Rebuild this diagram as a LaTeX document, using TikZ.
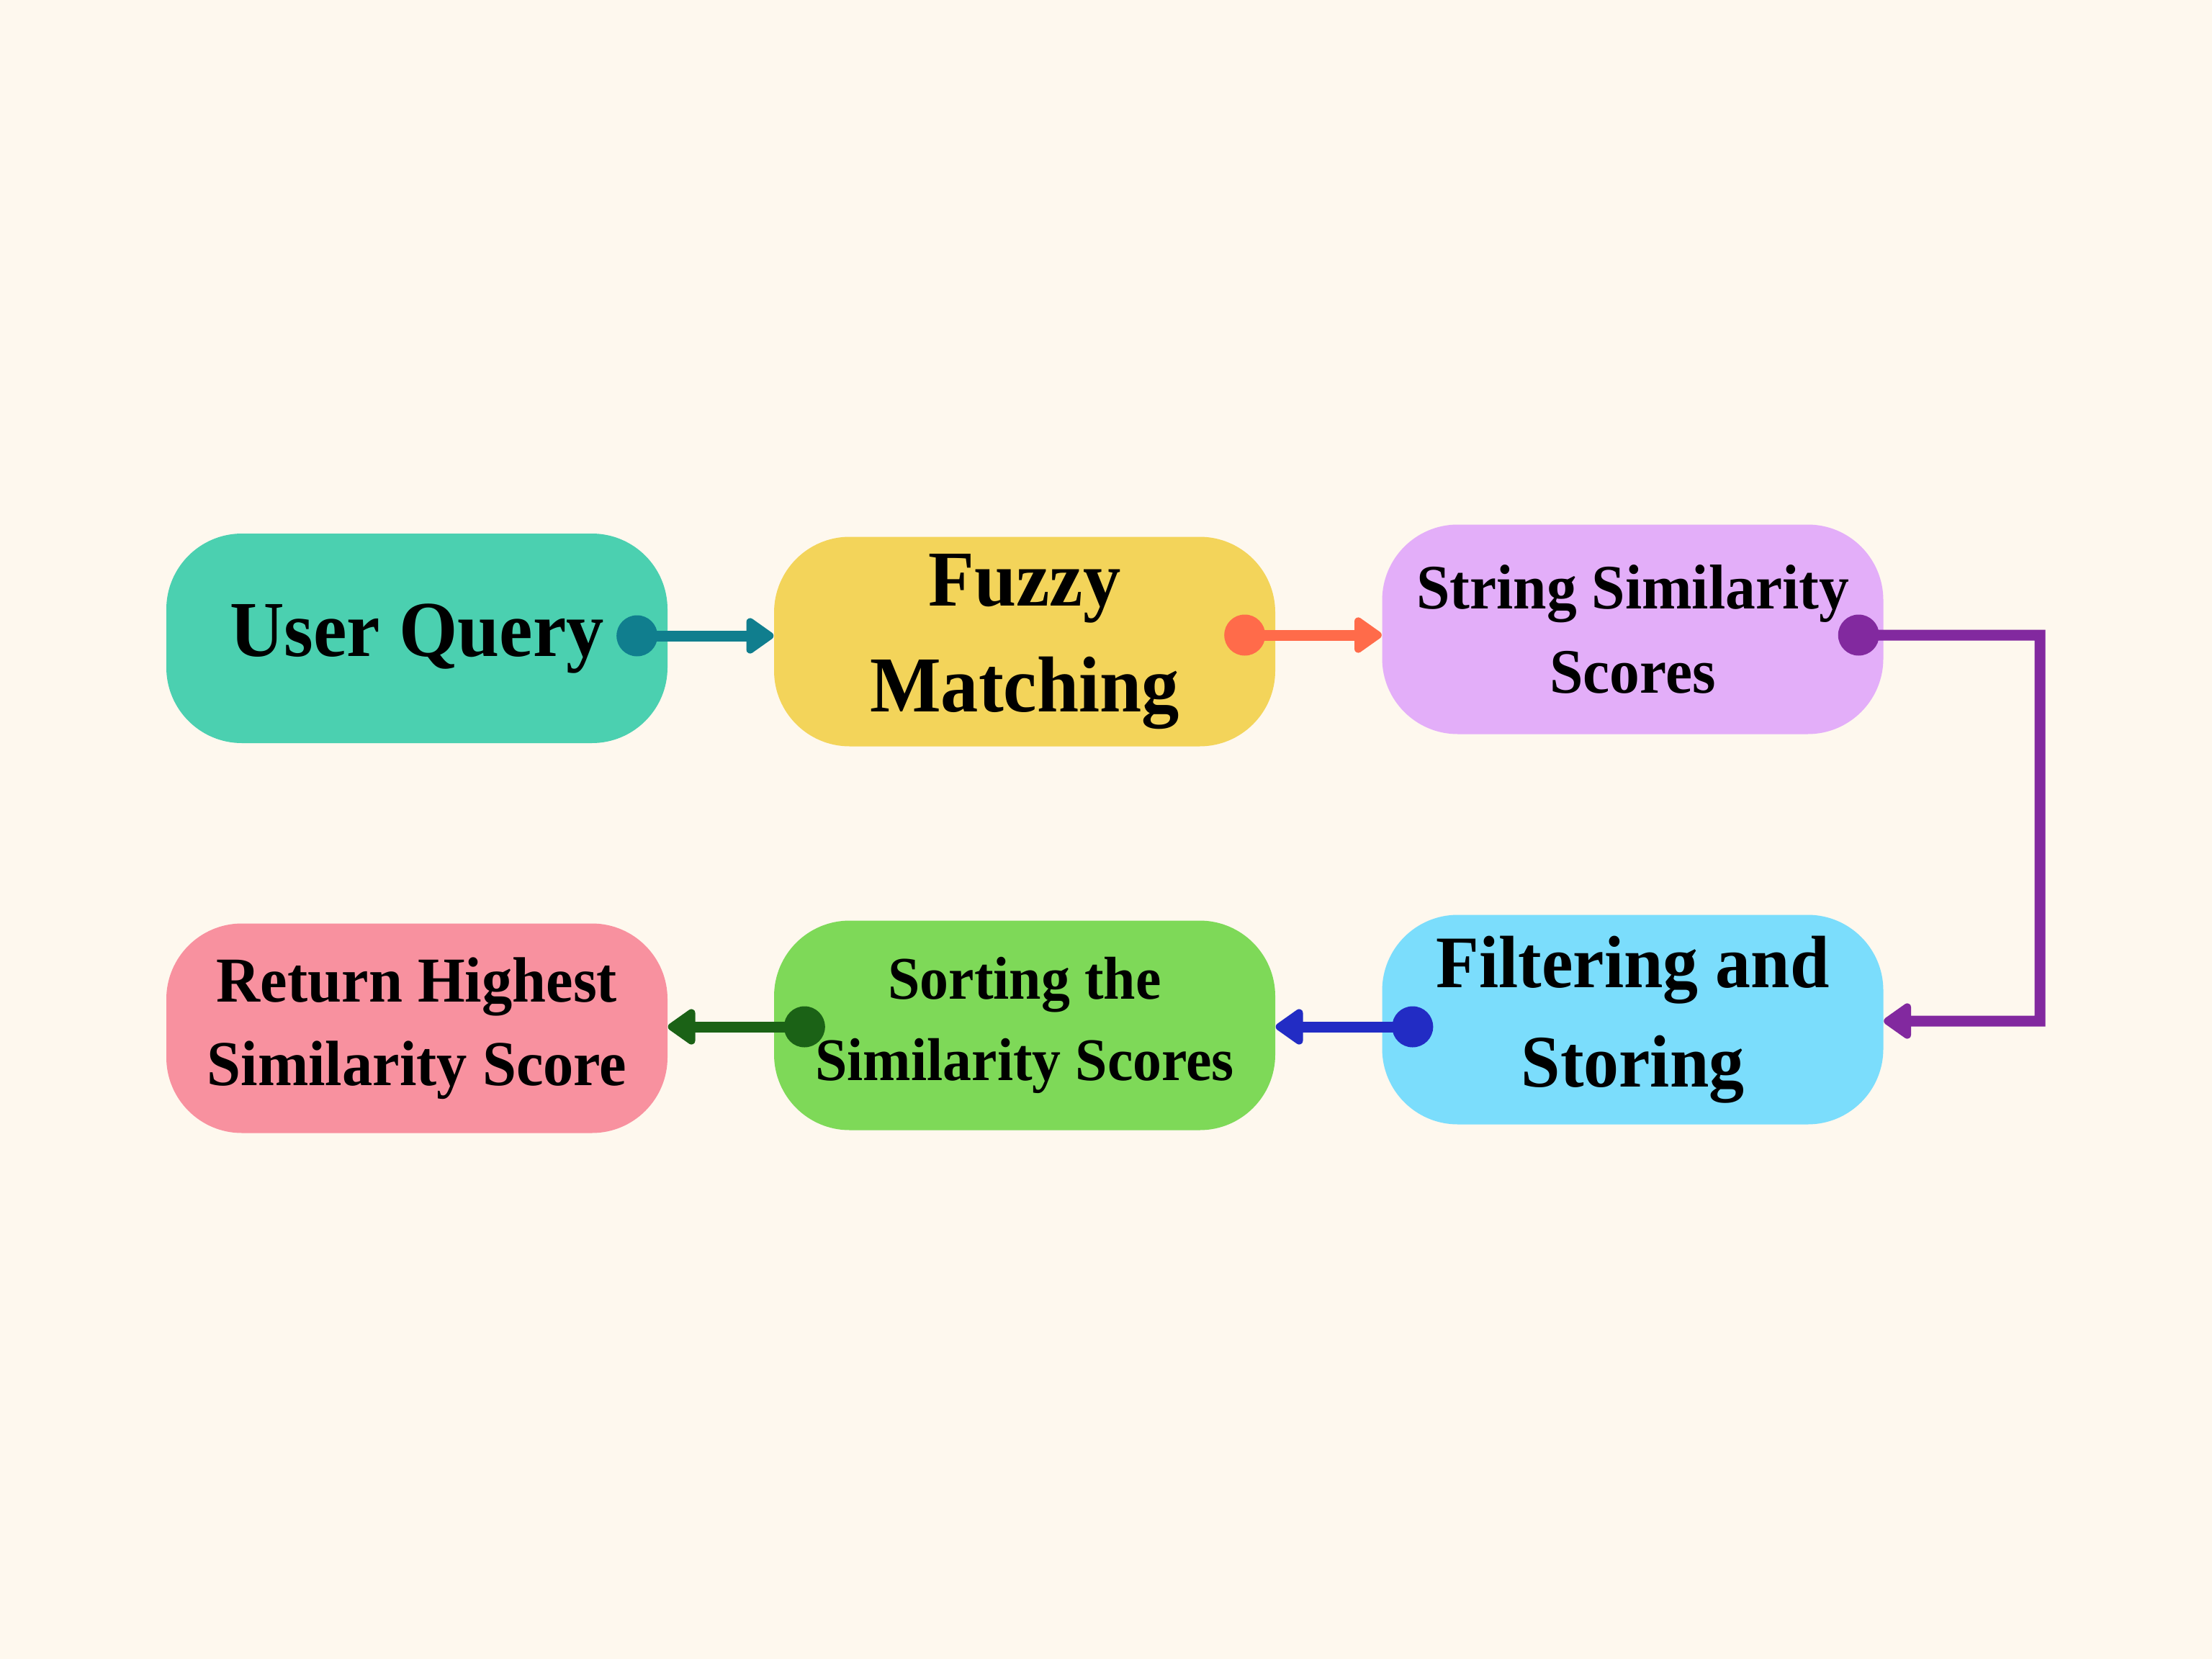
\documentclass[tikz,border=0pt]{standalone}
\usepackage{fontspec}
\setmainfont{Liberation Serif}[FakeStretch=0.95]
\usetikzlibrary{arrows.meta}

\definecolor{bgcream}{HTML}{FEF8EE}
\definecolor{cquery}{HTML}{4BD0B0}
\definecolor{cfuzzy}{HTML}{F3D45A}
\definecolor{cstring}{HTML}{E3AEF9}
\definecolor{cfilter}{HTML}{7BDDFC}
\definecolor{csort}{HTML}{7ED958}
\definecolor{creturn}{HTML}{F8919F}
\definecolor{lteal}{HTML}{107E8E}
\definecolor{lcoral}{HTML}{FF6B4A}
\definecolor{lpurple}{HTML}{82299F}
\definecolor{lblue}{HTML}{222CC4}
\definecolor{lgreen}{HTML}{1B6216}

\tikzset{
  stepbox/.style 2 args={draw=none, rectangle, rounded corners=1.05cm,
    minimum width=6.96cm, minimum height=2.91cm, inner sep=0pt,
    align=center, font=\bfseries\fontsize{#1}{#2}\selectfont},
  link/.style={line width=0.15cm, line join=miter,
    -{Triangle[length=0.42cm, width=0.56cm, round]}},
}
\newcommand{\linkdot}[2]{\fill[#1] (#2) circle (0.285cm);}

\begin{document}
\begin{tikzpicture}
  % canvas
  \fill[bgcream] (0,0) rectangle (30.72,-23.04);
  \useasboundingbox (0,0) rectangle (30.72,-23.04);

  % process steps
  \node[stepbox={31.3pt}{41.8pt}, fill=cquery] (uq) at (5.79,-8.865)
    {User Query};
  \node[stepbox={31.3pt}{41.8pt}, fill=cfuzzy] (fm) at (14.23,-8.91)
    {Fuzzy\\Matching};
  \node[stepbox={25pt}{33.3pt}, fill=cstring] (ss) at (22.675,-8.74)
    {String Similarity\\Scores};
  \node[stepbox={29.3pt}{39.3pt}, fill=cfilter] (fs) at (22.675,-14.16)
    {Filtering and\\Storing};
  \node[stepbox={23.9pt}{32.1pt}, fill=csort] (st) at (14.23,-14.24)
    {Sorting the\\Similarity Scores};
  \node[stepbox={25.3pt}{33pt}, fill=creturn] (rh) at (5.79,-14.28)
    {Return Highest\\Similarity Score};

  % connector start points
  \coordinate (d1) at ([xshift=-0.43cm, yshift=0.035cm]uq.east);
  \coordinate (d2) at ([xshift=-0.43cm, yshift=0.09cm]fm.east);
  \coordinate (d3) at ([xshift=-0.35cm, yshift=-0.08cm]ss.east);
  \coordinate (d4) at ([xshift=0.43cm, yshift=-0.10cm]fs.west);
  \coordinate (d5) at ([xshift=0.43cm, yshift=-0.02cm]st.west);
  \coordinate (bend1) at (28.33,-8.82);
  \coordinate (bend2) at (28.33,-14.18);

  % connectors
  \draw[link, lteal] (d1) -- (d1 -| fm.west);
  \linkdot{lteal}{d1}
  \draw[link, lcoral] (d2) -- (d2 -| ss.west);
  \linkdot{lcoral}{d2}
  \draw[link, lpurple] (d3) -- (bend1) -- (bend2) -- (bend2 -| fs.east);
  \linkdot{lpurple}{d3}
  \draw[link, lblue] (d4) -- (d4 -| st.east);
  \linkdot{lblue}{d4}
  \draw[link, lgreen] (d5) -- (d5 -| rh.east);
  \linkdot{lgreen}{d5}
\end{tikzpicture}
\end{document}
